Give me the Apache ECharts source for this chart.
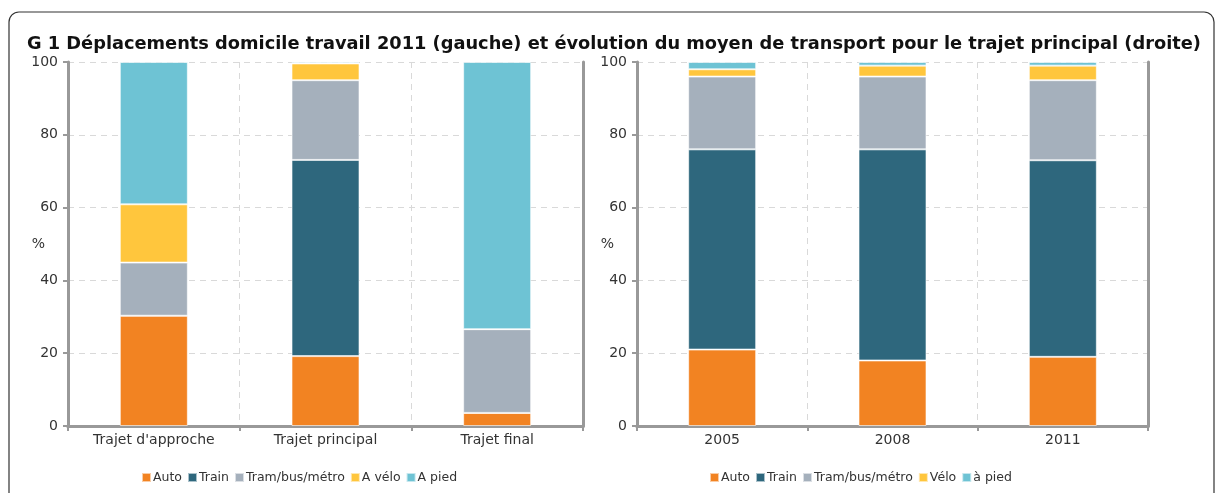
<!DOCTYPE html>
<html style="height: 100%">
<head>
<meta charset="utf-8">
<script src="https://cdn.jsdelivr.net/npm/echarts@6/dist/echarts.min.js"></script>
</head>
<body style="height: 100%; margin: 0; background: #fff">
<div id="container" style="width: 1215px; height: 493px"></div>
<script type="text/javascript">
// data (%)
var trajets = ["Trajet d'approche", 'Trajet principal', 'Trajet final'];
var autoL = [30.3, 19.2, 3.6];
var trainL = [0, 53.9, 0];
var tramL = [14.6, 21.9, 23];
var veloL = [16, 4.6, 0];
var piedL = [39.1, 0.4, 73.4];

var annees = ['2005', '2008', '2011'];
var autoR = [21, 18, 19];
var trainR = [55, 58, 54];
var tramR = [20, 20, 22];
var veloR = [2, 3, 4];
var piedR = [2, 1, 1];

var couleurs = ['#F28322', '#2E677D', '#A5B0BC', '#FFC63D', '#6EC3D4'];
var police = "'DejaVu Sans', sans-serif";

var dom = document.getElementById('container');
var myChart = echarts.init(dom);

var bord = { color: '#999', width: 3 };

function xAxe(idx, cats) {
    return {
        type: 'category', gridIndex: idx, data: cats,
        axisLine: { lineStyle: bord },
        axisTick: { show: true, length: 5, lineStyle: { color: '#999', width: 2 } },
        axisLabel: { color: '#333', fontSize: 14, fontFamily: police, margin: 7 },
        splitLine: { show: true, lineStyle: { color: '#d9d9d9', type: [6, 5] } }
    };
}
// top edge of the plot frame
function xHaut(idx, cats) {
    return {
        type: 'category', gridIndex: idx, data: cats, position: 'top',
        axisLine: { lineStyle: bord }, axisTick: { show: false }, axisLabel: { show: false }
    };
}
function yAxe(idx) {
    return {
        type: 'value', gridIndex: idx, min: 0, max: 100, interval: 20,
        name: '%', nameLocation: 'middle', nameRotate: 0, nameGap: 23, nameMoveOverlap: false,
        nameTextStyle: { color: '#333', fontSize: 14, fontFamily: police },
        axisLine: { show: true, lineStyle: bord },
        axisTick: { show: true, length: 5, lineStyle: { color: '#999', width: 2 } },
        axisLabel: { color: '#333', fontSize: 14, fontFamily: police, margin: 10 },
        splitLine: { lineStyle: { color: '#d9d9d9', type: [6, 5] } }
    };
}
// right edge of the plot frame
function yDroite(idx) {
    return {
        type: 'value', gridIndex: idx, min: 0, max: 100, position: 'right',
        axisLine: { show: true, lineStyle: bord }, axisTick: { show: false },
        axisLabel: { show: false }, splitLine: { show: false }
    };
}
function serie(nom, vals, idx, c) {
    return {
        name: nom, type: 'bar', stack: 'g' + idx, data: vals,
        xAxisIndex: idx, yAxisIndex: idx, barWidth: 68,
        itemStyle: { color: couleurs[c], borderColor: 'rgba(255,255,255,0.6)', borderWidth: 1 },
        emphasis: { disabled: true }
    };
}

var legendeTexte = { color: '#333', fontSize: 12.5, fontFamily: police, padding: [0, 0, 0, -3] };

option = {
    animation: false,
    color: couleurs,
    title: {
        text: 'G 1 Déplacements domicile travail 2011 (gauche) et évolution du moyen de transport pour le trajet principal (droite)',
        left: 22, top: 30,
        textStyle: { fontSize: 17.8, fontWeight: 'bold', color: '#111', fontFamily: police }
    },
    graphic: [{
        type: 'rect', silent: true,
        shape: { x: 9, y: 12, width: 1205, height: 520, r: 10 },
        style: { fill: 'none', stroke: '#333', lineWidth: 1.2 }
    }],
    grid: [
        { left: 68, right: 632, top: 62, bottom: 67 },
        { left: 637, right: 67, top: 62, bottom: 67 }
    ],
    legend: [{
        data: ['Auto', 'Train', 'Tram/bus/métro', 'A vélo', 'A pied'],
        left: 136, top: 466, itemWidth: 9, itemHeight: 9, itemGap: 5,
        icon: 'rect', textStyle: legendeTexte
    }, {
        data: ['Auto', 'Train', 'Tram/bus/métro', 'Vélo', 'à pied'],
        left: 704, top: 466, itemWidth: 9, itemHeight: 9, itemGap: 5,
        icon: 'rect', textStyle: legendeTexte
    }],
    xAxis: [xAxe(0, trajets), xAxe(1, annees), xHaut(0, trajets), xHaut(1, annees)],
    yAxis: [yAxe(0), yAxe(1), yDroite(0), yDroite(1)],
    series: [
        serie('Auto', autoL, 0, 0),
        serie('Train', trainL, 0, 1),
        serie('Tram/bus/métro', tramL, 0, 2),
        serie('A vélo', veloL, 0, 3),
        serie('A pied', piedL, 0, 4),
        serie('Auto', autoR, 1, 0),
        serie('Train', trainR, 1, 1),
        serie('Tram/bus/métro', tramR, 1, 2),
        serie('Vélo', veloR, 1, 3),
        serie('à pied', piedR, 1, 4)
    ]
};

myChart.setOption(option);
</script>
</body>
</html>
